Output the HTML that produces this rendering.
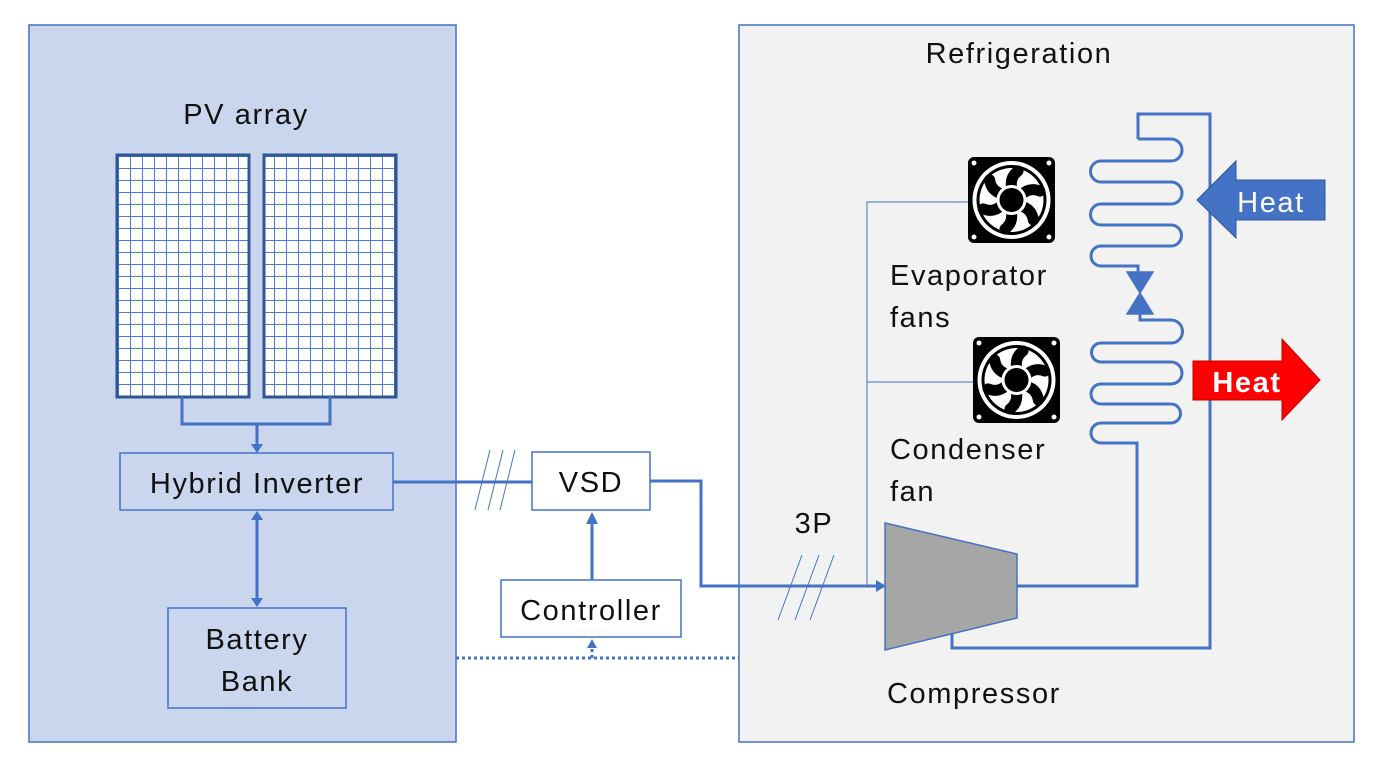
<!DOCTYPE html>
<html><head><meta charset="utf-8"><style>
body{margin:0;background:#fff;}
svg{display:block;font-family:"Liberation Sans",sans-serif;}
svg text{font-size:29px;letter-spacing:1.6px;}
</style></head><body>
<svg width="1389" height="771" viewBox="0 0 1389 771" xmlns="http://www.w3.org/2000/svg">
<defs>
<pattern id="grid" x="118" y="156" width="12" height="12" patternUnits="userSpaceOnUse">
<rect width="12" height="12" fill="#fff"/>
<path d="M0 0H12M0 0V12" stroke="#4d7fd0" stroke-width="2" fill="none"/>
</pattern>
<g id="fan">
<rect x="0" y="0" width="87" height="86" rx="6" fill="#000"/>
<circle cx="6" cy="6" r="2.5" fill="#fff"/><circle cx="81" cy="6" r="2.5" fill="#fff"/>
<circle cx="6" cy="80" r="2.5" fill="#fff"/><circle cx="81" cy="80" r="2.5" fill="#fff"/>
<circle cx="43.5" cy="43" r="39" fill="#fff"/>
<circle cx="43.5" cy="43" r="35" fill="#000"/>
<circle cx="43.5" cy="43" r="32" fill="#fff"/>
<g stroke="#000" stroke-width="11" stroke-linecap="round" fill="none">
<path d="M43.5 30 Q42 20 50 14"/>
<path d="M43.5 30 Q42 20 50 14" transform="rotate(60 43.5 43)"/>
<path d="M43.5 30 Q42 20 50 14" transform="rotate(120 43.5 43)"/>
<path d="M43.5 30 Q42 20 50 14" transform="rotate(180 43.5 43)"/>
<path d="M43.5 30 Q42 20 50 14" transform="rotate(240 43.5 43)"/>
<path d="M43.5 30 Q42 20 50 14" transform="rotate(300 43.5 43)"/>
</g>
<circle cx="43.5" cy="43" r="15" fill="#fff"/>
<circle cx="43.5" cy="43" r="12" fill="#000"/>
</g>
</defs>

<rect x="29" y="25" width="427" height="717" fill="#c9d6ed" stroke="#4472c4" stroke-width="1.5"/>
<rect x="739" y="25" width="615" height="717" fill="#f2f2f2" stroke="#4472c4" stroke-width="1.5"/>

<text x="246" y="124" text-anchor="middle" fill="#111">PV array</text>
<rect x="117" y="155" width="132" height="242" fill="url(#grid)" stroke="#2f5597" stroke-width="3"/>
<rect x="264" y="155" width="132" height="242" fill="url(#grid)" stroke="#2f5597" stroke-width="3"/>
<path d="M182 397V424H330V397M257 424V446" stroke="#4472c4" stroke-width="3" fill="none"/>
<path d="M251 444L263 444L257 453Z" fill="#4472c4"/>

<rect x="120" y="453" width="273" height="57" fill="#c9d6ed" stroke="#4472c4" stroke-width="1.5"/>
<text x="257" y="493" text-anchor="middle" fill="#111">Hybrid Inverter</text>
<rect x="168" y="608" width="178" height="100" fill="#c9d6ed" stroke="#4472c4" stroke-width="1.5"/>
<text x="257" y="649" text-anchor="middle" fill="#111">Battery</text>
<text x="257" y="691" text-anchor="middle" fill="#111">Bank</text>
<path d="M257 518V600" stroke="#4472c4" stroke-width="3"/>
<path d="M251 520L263 520L257 511Z M251 598L263 598L257 607Z" fill="#4472c4"/>

<path d="M393 482H532" stroke="#4472c4" stroke-width="3"/>
<path d="M475 510L490 450M488 510L503 450M500 510L515 450" stroke="#4472c4" stroke-width="1"/>
<rect x="532" y="452" width="118" height="58" fill="#fff" stroke="#4472c4" stroke-width="1.5"/>
<text x="591" y="492" text-anchor="middle" fill="#111">VSD</text>
<rect x="501" y="580" width="180" height="57" fill="#fff" stroke="#4472c4" stroke-width="1.5"/>
<text x="591" y="620" text-anchor="middle" fill="#111">Controller</text>
<path d="M592 580V522" stroke="#4472c4" stroke-width="3"/>
<path d="M586 524L598 524L592 512Z" fill="#4472c4"/>
<path d="M456 658H739" stroke="#4472c4" stroke-width="3" stroke-dasharray="3 3"/>
<path d="M592 658V646" stroke="#4472c4" stroke-width="3" stroke-dasharray="3 3"/>
<path d="M587 648L597 648L592 639Z" fill="#4472c4"/>
<path d="M650 481H701V586H877" stroke="#4472c4" stroke-width="3" fill="none"/>
<path d="M876 580L886 586L876 592Z" fill="#4472c4"/>
<path d="M778 620L802 555M795 620L819 555M810 620L834 555" stroke="#4472c4" stroke-width="1"/>
<text x="814" y="533" text-anchor="middle" fill="#111">3P</text>

<text x="1019" y="63" text-anchor="middle" fill="#111">Refrigeration</text>
<path d="M867 586V202H968M867 382H973" stroke="#4472c4" stroke-width="1" fill="none"/>
<use href="#fan" x="968" y="157"/>
<use href="#fan" x="973" y="337"/>
<text x="890" y="285" fill="#111">Evaporator</text>
<text x="890" y="327" fill="#111">fans</text>
<text x="890" y="459" fill="#111">Condenser</text>
<text x="890" y="501" fill="#111">fan</text>
<text x="887" y="703" fill="#111">Compressor</text>

<g stroke="#4472c4" stroke-width="3" fill="none">
<path d="M1138 139V114H1210V648H952V625"/>
<path d="M1138 139H1171A11 11 0 0 1 1171 161H1101A10.5 10.5 0 0 0 1101 182H1171A11 11 0 0 1 1171 204H1101A10.5 10.5 0 0 0 1101 225H1171A10.5 10.5 0 0 1 1171 246H1101A10 10 0 0 0 1101 266H1138V272"/>
<path d="M1140 314V320H1171A11.5 11.5 0 0 1 1171 343H1101A9.5 9.5 0 0 0 1101 362H1171A11 11 0 0 1 1171 384H1101A10 10 0 0 0 1101 404H1171A9.5 9.5 0 0 1 1171 423H1101A10 10 0 0 0 1101 443H1137V586H1017"/>
</g>
<path d="M1127 272H1153L1140 293Z M1127 314H1153L1140 293Z" fill="#4472c4" stroke="#4472c4" stroke-width="1.5"/>
<path d="M885 523L1017 554V618L885 650Z" fill="#a6a6a6" stroke="#4472c4" stroke-width="1.5"/>

<path d="M1197 200L1236 161V180H1325V220H1236V238Z" fill="#4472c4" stroke="#2f5597" stroke-width="1"/>
<text x="1271" y="212" text-anchor="middle" fill="#fff">Heat</text>
<path d="M1193 361H1282V339L1320 380L1282 420V400H1193Z" fill="#ff0000" stroke="#c00000" stroke-width="1"/>
<text x="1247" y="392" font-weight="bold" text-anchor="middle" fill="#fff">Heat</text>
</svg>
</body></html>
